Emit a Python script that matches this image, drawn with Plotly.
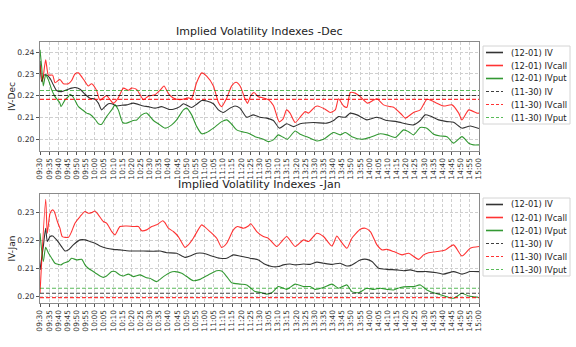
import plotly.graph_objects as go

tick_labels = ["09:30","09:35","09:40","09:45","09:50","09:55","10:00","10:05","10:10","10:15",
               "10:20","10:25","10:30","10:35","10:40","10:45","10:50","10:55","11:00","11:05",
               "11:10","11:15","11:20","11:25","11:30","13:05","13:10","13:15","13:20","13:25",
               "13:30","13:35","13:40","13:45","13:50","13:55","14:00","14:05","14:10","14:15",
               "14:20","14:25","14:30","14:35","14:40","14:45","14:50","14:55","15:00"]
tick_pos = [5 * i for i in range(len(tick_labels))]  # trading-minute index

# ---- December (top) : minute index / value ----
dec_iv_t = [0,0.9,2.2,3.6,5.5,7.3,9.1,11.8,14.6,17.3,19.1,21.9,24.6,27.3,30.1,31.9,33.7,35.5,37.4,39.2,
            41.9,44.7,47.4,51.0,56.5,59.2,62.9,66.5,70.2,72.9,76.5,78.4,82.9,85.7,88.4,91.1,94.8,97.5,100.2,103.9,
            106.6,109.3,113.0,116.6,120.3,123.9,127.6,130.9,134.9,138.6,142.2,149.5,156.8,160.5,163.2,166.9,169.6,173.3,178.7,184.2,
            189.7,195.1,200.6,204.2,207.9,210.6,213.3,217.9,222.5,226.1,230.7,235.2,240]
dec_iv_v = [0.236,0.2265,0.2295,0.2295,0.228,0.225,0.2224,0.2219,0.2227,0.2235,0.2238,0.223,0.2207,0.2189,0.2184,0.2166,0.2135,0.215,0.2163,0.2163,
            0.2153,0.2156,0.2158,0.2166,0.2153,0.215,0.2143,0.215,0.2138,0.2138,0.215,0.2163,0.2146,0.2161,0.2178,0.2176,0.2163,0.2135,0.2123,0.2143,
            0.2153,0.2143,0.2101,0.2112,0.2101,0.2097,0.2086,0.2051,0.2071,0.2058,0.2071,0.2077,0.2074,0.2086,0.2104,0.2101,0.212,0.2112,0.2089,0.2101,
            0.2086,0.2081,0.207,0.2066,0.2086,0.2112,0.2107,0.2089,0.2081,0.2078,0.2051,0.2061,0.2049]

dec_call_t = [0,1.3,3.1,4.6,6.9,8.2,10.9,12.8,15.5,17.3,19.1,21.0,24.6,26.4,28.2,30.9,32.8,36.4,40.1,42.8,
              45.6,48.3,50.1,52.9,56.5,59.2,62.9,65.6,67.8,70.2,72.9,76.5,81.1,82.9,85.6,88.4,91.1,94.8,97.5,99.3,
              102.1,104.8,107.2,109.4,112.1,113.4,115.2,117.0,119.4,122.1,124.8,127.6,130.8,133.0,134.8,136.7,
              139.5,143.2,145.0,146.8,150.5,151.7,155.9,158.7,161.4,163.2,166.0,167.8,169.6,172.3,175.1,179.1,182.4,184.2,187.8,191.5,
              193.3,197.9,199.7,204.2,207.9,211.5,214.3,217.0,220.7,225.2,228.9,230.7,234.4,238.9,240]
dec_call_v = [0.234,0.2265,0.2365,0.2295,0.2295,0.226,0.2275,0.2255,0.2255,0.227,0.23,0.2305,0.2265,0.2245,0.2255,0.2225,0.218,0.22,0.2165,0.219,
              0.2235,0.2225,0.2235,0.2228,0.2182,0.2198,0.2205,0.2225,0.2245,0.221,0.219,0.2182,0.219,0.2188,0.226,0.2305,0.229,0.2245,0.217,0.215,
              0.219,0.2245,0.2262,0.2245,0.2185,0.2165,0.22,0.2215,0.2195,0.219,0.2182,0.2155,0.208,0.2095,0.2135,0.212,
              0.2077,0.2112,0.2127,0.212,0.215,0.2153,0.2138,0.2123,0.2135,0.2186,0.2153,0.2147,0.2215,0.2212,0.2196,0.2166,0.218,0.2186,0.2158,0.215,
              0.2147,0.2112,0.2097,0.2123,0.2135,0.2184,0.2177,0.2166,0.2153,0.2158,0.212,0.2089,0.2135,0.212,0.212]

dec_put_t = [0,0.9,1.8,3.1,4.6,6.4,8.2,10.9,11.5,13.7,15.5,16.4,18.2,21.0,23.7,25.5,27.3,30.1,31.9,33.7,
             36.4,39.2,41.0,42.8,45.2,47.4,51.0,52.9,55.6,58.3,62.0,64.7,68.3,72.0,74.7,78.4,80.2,82.9,85.7,88.4,
             91.1,94.8,99.3,102.1,104.8,107.5,110.3,113.9,117.6,122.1,124.8,127.6,130.3,133.0,135.2,
             139.5,142.2,146.8,151.4,155.0,160.5,164.1,166.9,170.5,176.0,180.6,186.0,189.7,194.2,198.8,201.5,204.2,207.9,211.5,215.2,
             218.8,222.5,226.1,230.7,234.4,237.0,240]
dec_put_v = [0.2411,0.2334,0.2245,0.2296,0.2273,0.2227,0.2196,0.2166,0.215,0.2181,0.2196,0.2207,0.2193,0.215,0.2132,0.212,0.2115,0.2092,0.2071,0.2069,
             0.2104,0.2135,0.2158,0.2135,0.2077,0.2074,0.2086,0.2089,0.2112,0.212,0.2086,0.2071,0.2051,0.2066,0.2089,0.2135,0.2143,0.2112,0.2058,0.2025,
             0.2031,0.2051,0.2081,0.2089,0.2069,0.2043,0.2035,0.2028,0.2012,0.20,0.1989,0.1997,0.202,0.2009,0.20,
             0.2038,0.2023,0.2008,0.1992,0.20,0.2031,0.202,0.2031,0.2012,0.20,0.2009,0.2025,0.202,0.2008,0.2043,0.2035,0.202,0.2054,0.2051,0.2023,
             0.2015,0.2012,0.1982,0.2012,0.1982,0.1974,0.1974]

dec_prev = {"IV": 0.2201, "IVcall": 0.2183, "IVput": 0.2224}

# ---- January (bottom) ----
jan_iv_t = [0,1.8,3.1,4.0,5.5,6.9,9.1,11.8,13.7,15.5,18.2,21.9,24.6,27.3,30.1,32.8,36.4,40.1,43.7,47.4,
            51.0,56.5,62.0,65.6,69.3,74.7,79.3,82.0,85.7,89.3,93.9,98.4,102.1,105.7,109.3,114.8,119.4,123.0,126.7,130.3,
            133.0,136.7,
            139.5,144.1,147.7,151.4,155.0,159.6,164.1,167.8,170.5,175.1,178.7,181.5,185.1,189.7,195.1,198.8,202.4,206.1,211.5,217.0,
            220.7,226.1,230.7,235.2,240]
jan_iv_v = [0.2094,0.2178,0.2244,0.2196,0.2214,0.2216,0.2202,0.2178,0.2162,0.2166,0.2184,0.2202,0.2202,0.2196,0.219,0.218,0.2172,0.2168,0.2166,0.2163,
            0.2162,0.2162,0.2161,0.2162,0.2156,0.2154,0.2139,0.2144,0.2154,0.2154,0.2144,0.2136,0.2136,0.2148,0.2144,0.2136,0.213,0.2114,0.2106,0.2106,
            0.2112,0.2115,
            0.2112,0.2115,0.2114,0.2122,0.2118,0.2114,0.2118,0.2108,0.2112,0.213,0.2132,0.2124,0.21,0.2096,0.2094,0.2091,0.2094,0.2088,0.2088,0.2084,
            0.2079,0.2088,0.2079,0.2088,0.2088]

jan_call_t = [0,3.1,4.0,5.5,6.9,7.8,9.5,10.9,12.2,15.5,17.3,19.1,21.9,24.6,26.4,28.2,30.1,31.9,34.6,36.4,
              39.2,41.0,43.7,47.4,51.0,53.8,55.6,58.3,61.1,63.8,67.1,68.3,70.2,72.9,75.6,79.3,81.1,83.8,88.4,90.2,
              92.9,96.6,99.3,102.1,105.7,107.9,111.2,113.9,115.2,118.5,122.1,124.8,129.4,132.1,134.9,
              139.5,144.1,146.8,151.4,155.0,159.6,162.3,164.1,167.8,170.5,175.1,177.8,180.6,184.2,187.0,189.7,193.3,197.9,201.5,207.0,
              209.7,212.4,217.0,221.6,226.1,230.7,235.2,240]
jan_call_v = [0.201,0.2348,0.2226,0.2298,0.231,0.2304,0.2268,0.2244,0.2214,0.2211,0.2232,0.2262,0.2286,0.2304,0.2298,0.23,0.2306,0.2292,0.2268,0.2262,
              0.2232,0.222,0.225,0.2252,0.225,0.225,0.2235,0.2238,0.225,0.2256,0.2271,0.2264,0.2244,0.2232,0.2214,0.2175,0.2184,0.2208,0.2256,0.2248,
              0.2232,0.2208,0.2175,0.219,0.2238,0.225,0.2244,0.2252,0.226,0.2232,0.2214,0.2208,0.2178,0.2196,0.2214,
              0.2178,0.2202,0.2196,0.2226,0.2214,0.218,0.2216,0.22,0.2172,0.2208,0.224,0.2244,0.2232,0.2184,0.2166,0.2168,0.216,0.2148,0.2154,0.2132,
              0.2148,0.2156,0.216,0.2166,0.2184,0.2144,0.2172,0.2178]

jan_put_t = [0,1.8,3.1,4.6,6.4,8.2,10.0,11.5,12.8,15.5,17.3,20.0,22.8,24.6,26.4,30.1,32.8,34.6,36.4,39.2,
             41.0,43.7,45.6,48.3,51.0,54.7,58.3,60.1,63.8,67.5,71.1,73.8,77.5,80.2,83.8,87.5,92.0,96.6,99.3,102.1,
             104.8,109.3,113.0,117.6,121.2,123.9,126.7,130.3,132.1,134.9,
             139.5,144.1,147.7,150.4,155.0,159.6,163.2,167.8,170.5,174.2,178.7,182.4,186.0,189.7,193.3,197.0,201.5,204.2,207.9,211.5,
             215.2,220.7,226.1,230.7,234.4,240]
jan_put_v = [0.2226,0.2124,0.2175,0.2155,0.2136,0.2118,0.2114,0.2112,0.2118,0.2124,0.2136,0.213,0.2132,0.2112,0.21,0.2084,0.2072,0.2067,0.2072,0.2088,
             0.2088,0.2076,0.2072,0.2079,0.207,0.2076,0.2066,0.2064,0.2052,0.207,0.2085,0.2088,0.2082,0.207,0.2055,0.206,0.2076,0.2091,0.209,0.207,
             0.2048,0.2043,0.204,0.2016,0.2012,0.2007,0.2012,0.2034,0.2031,0.2024,
             0.2043,0.2034,0.2034,0.2024,0.2031,0.2043,0.2028,0.204,0.2016,0.2012,0.2028,0.2024,0.2028,0.2024,0.2022,0.2031,0.2034,0.2034,0.204,0.2022,
             0.2012,0.2001,0.1992,0.201,0.20,0.1995]

jan_prev = {"IV": 0.2010, "IVcall": 0.1994, "IVput": 0.2028}

cur_date = "12-01"
prev_date = "11-30"
series_names = ["IV", "IVcall", "IVput"]
colors = {"IV": "rgba(0,0,0,0.8)", "IVcall": "rgba(255,0,0,0.8)", "IVput": "rgba(0,128,0,0.8)"}
dash_colors = {"IV": "rgba(0,0,0,0.75)", "IVcall": "rgba(255,0,0,0.8)", "IVput": "rgba(0,150,0,0.65)"}

W, H = 576, 347
ML, MR, MT, MB = 40, 97, 42, 44
PW, PH = W - ML - MR, H - MT - MB

def px2x(px):
    return (px - ML) / PW

def px2y(py):
    return (H - MB - py) / PH

fig = go.Figure()
shapes = []
annotations = []

def add_panel(series, prev, xa, ya, legend_top, legend_bottom):
    for name in series_names:
        t, v = series[name]
        n = min(len(t), len(v))
        fig.add_trace(go.Scatter(x=t[:n], y=v[:n], mode="lines", name=f"({cur_date}) {name}",
                                 line=dict(color=colors[name], width=1.1, shape="spline", smoothing=0.6),
                                 xaxis=xa, yaxis=ya, showlegend=False))
    for name in series_names:
        val = prev[name]
        fig.add_trace(go.Scatter(x=[tick_pos[0], tick_pos[-1]], y=[val, val], mode="lines",
                                 name=f"({prev_date}) {name}",
                                 line=dict(color=dash_colors[name], width=1.2, dash="4px,2px"),
                                 xaxis=xa, yaxis=ya, showlegend=False))
    # legend box (drawn like matplotlib's legend)
    shapes.append(dict(type="rect", xref="paper", yref="paper",
                       x0=px2x(483), x1=px2x(570), y0=px2y(legend_bottom), y1=px2y(legend_top),
                       line=dict(color="#d4d4d4", width=1), fillcolor="white", layer="above"))
    entries = [(f"({cur_date}) {n}", colors[n], "solid") for n in series_names] + \
              [(f"({prev_date}) {n}", dash_colors[n], "3px,2px") for n in series_names]
    step = (legend_bottom - legend_top) / 6.0
    for i, (label, col, dash) in enumerate(entries):
        yc = legend_top + step * (i + 0.5)
        shapes.append(dict(type="line", xref="paper", yref="paper",
                           x0=px2x(486), x1=px2x(503), y0=px2y(yc), y1=px2y(yc),
                           line=dict(color=col, width=1.6 if dash == "solid" else 1.2, dash=dash),
                           layer="above"))
        annotations.append(dict(text=label, x=px2x(509), y=px2y(yc), xref="paper", yref="paper",
                                xanchor="left", yanchor="middle", showarrow=False,
                                font=dict(size=8.4, color="#222", family="DejaVu Sans")))

add_panel({"IV": (dec_iv_t, dec_iv_v), "IVcall": (dec_call_t, dec_call_v), "IVput": (dec_put_t, dec_put_v)},
          dec_prev, "x", "y", 46, 124)
add_panel({"IV": (jan_iv_t, jan_iv_v), "IVcall": (jan_call_t, jan_call_v), "IVput": (jan_put_t, jan_put_v)},
          jan_prev, "x2", "y2", 198, 276)

font_main = "DejaVu Sans"
grid = dict(showgrid=True, gridcolor="#cfcfcf", griddash="3px,2px", gridwidth=0.8)
xcommon = dict(tickmode="array", tickvals=tick_pos, ticktext=tick_labels, tickangle=-90,
               range=[0, 240], showline=True, linecolor="#8a8a8a", mirror=True, linewidth=1,
               ticks="outside", ticklen=3, tickcolor="#555",
               tickfont=dict(size=7.5, color="#333", family=font_main), zeroline=False, **grid)
ycommon = dict(showline=True, linecolor="#8a8a8a", mirror=True, linewidth=1, ticks="outside", ticklen=3,
               tickcolor="#555", tickfont=dict(size=7.7, color="#333", family=font_main), zeroline=False,
               tickformat=".2f", title_font=dict(size=9, color="#222", family=font_main),
               title_standoff=0, **grid)

annotations += [
    dict(text="Implied Volatility Indexes -Dec", x=0.5, y=1, xref="paper", yref="paper",
         xanchor="center", yanchor="bottom", yshift=2, showarrow=False,
         font=dict(size=11, color="#222", family=font_main)),
    dict(text="Implied Volatility Indexes -Jan", x=0.5, y=px2y(194), xref="paper", yref="paper",
         xanchor="center", yanchor="bottom", yshift=1, showarrow=False,
         font=dict(size=11, color="#222", family=font_main)),
]

fig.update_layout(
    width=W, height=H, margin=dict(l=ML, r=MR, t=MT, b=MB, autoexpand=False),
    paper_bgcolor="white", plot_bgcolor="white", showlegend=False,
    font=dict(family=font_main, color="#222"),
    xaxis=dict(domain=[0, 1], anchor="y", **xcommon),
    xaxis2=dict(domain=[0, 1], anchor="y2", **xcommon),
    yaxis=dict(domain=[px2y(151), 1], anchor="x", range=[0.1946, 0.2447],
               tickvals=[0.20, 0.21, 0.22, 0.23, 0.24], title_text="IV-Dec", **ycommon),
    yaxis2=dict(domain=[0, px2y(194)], anchor="x2", range=[0.1975, 0.2367],
                tickvals=[0.20, 0.21, 0.22, 0.23], title_text="IV-Jan", **ycommon),
    shapes=shapes,
    annotations=annotations,
)

fig.write_html("out.html")
